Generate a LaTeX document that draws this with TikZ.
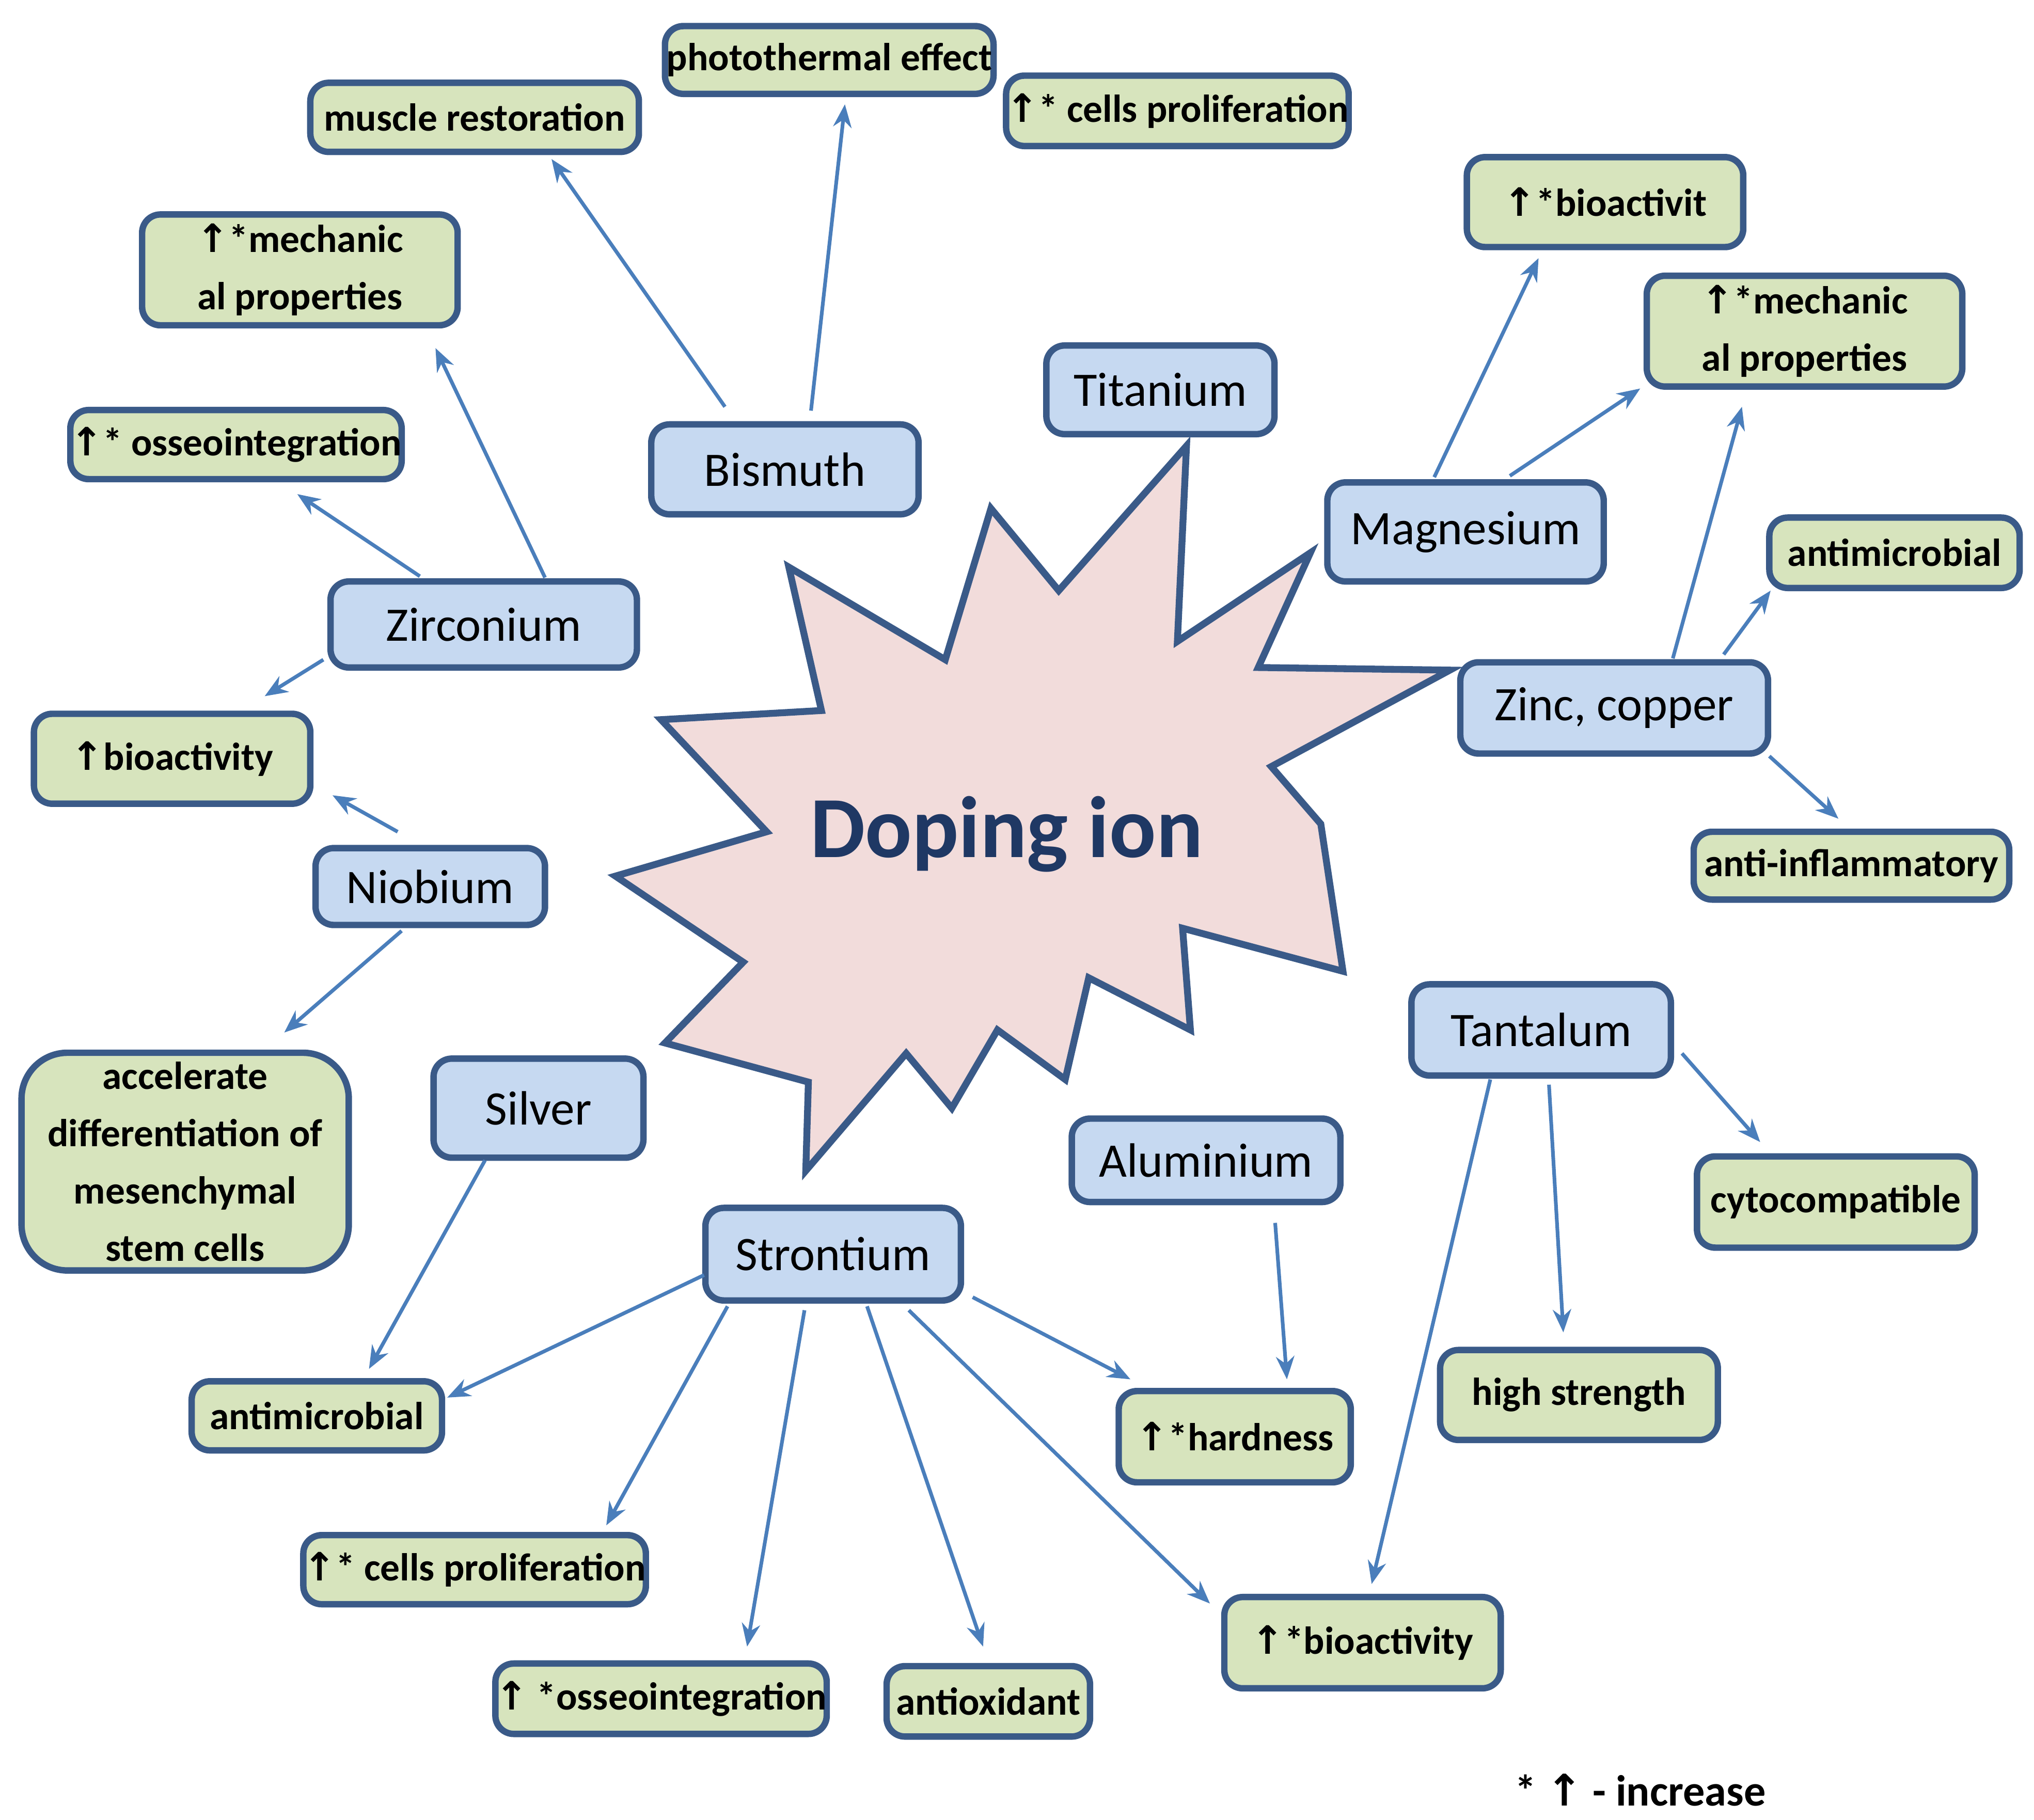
\documentclass[tikz,border=0pt]{standalone}
\usepackage{fontspec}
\usetikzlibrary{arrows.meta}
\setmainfont{Carlito}
\newfontfamily\arr{DejaVu Sans}
\newcommand{\up}{{\arr\char"2191}}
\definecolor{bfill}{HTML}{C6D9F1}
\definecolor{gfill}{HTML}{D7E4BD}
\definecolor{bord}{HTML}{3A5A88}
\definecolor{arrc}{HTML}{4A7EBB}
\definecolor{starf}{HTML}{F2DCDB}
\definecolor{startx}{HTML}{1F3864}
\begin{document}
\begin{tikzpicture}[x=0.01cm,y=-0.01cm,
  sz/.style 2 args={minimum width=#1*0.01cm,minimum height=#2*0.01cm},
  bx/.style={draw=bord,line width=1.4pt,rounded corners=4pt,inner sep=0pt,align=center},
  blue/.style={bx,fill=bfill,font=\fontsize{10.5}{12}\selectfont},
  green/.style={bx,fill=gfill,font=\bfseries\fontsize{8.5}{12.5}\selectfont},
  arw/.style={draw=arrc,line width=0.8pt,-{Stealth[length=5pt,width=4pt]}}]
\useasboundingbox (0,0) rectangle (1560,1396);
\draw[draw=bord,line width=1.5pt,fill=starf] (910,342)--(903,492)--(1005,424)--(965,512)--(1112,514)--(975,588)--(1013,632)--(1030,745)--(907,712)--(913,790)--(835,750)--(817,828)--(765,790)--(730,850)--(695,808)--(618,898)--(620,830)--(510,800)--(570,738)--(472,672)--(588,638)--(507,552)--(630,545)--(605,435)--(725,506)--(760,390)--(812,453)--cycle;
\node[font=\bfseries\fontsize{19}{22}\selectfont,text=startx] (dop) at (772,640) {Doping ion};
% blue
\node[blue,sz={175}{68}] (ti) at (890,299) {Titanium};
\node[blue,sz={205}{69}] (bis) at (602,360) {Bismuth};
\node[blue,sz={212}{76}] (mg) at (1124,408) {Magnesium};
\node[blue,sz={235}{66}] (zr) at (371,479) {Zirconium};
\node[blue,sz={236}{70}] (zn) at (1238,543) {Zinc, copper};
\node[blue,sz={176}{59}] (nb) at (330,680) {Niobium};
\node[blue,sz={161}{76}] (ag) at (413,850) {Silver};
\node[blue,sz={199}{70}] (ta) at (1182,790) {Tantalum};
\node[blue,sz={206}{64}] (al) at (925,890) {Aluminium};
\node[blue,sz={196}{71}] (sr) at (639,962) {Strontium};
% green
\node[green,sz={252}{53}] (mus) at (364,90) {muscle restoration};
\node[green,sz={252}{52}] (pho) at (636,46) {photothermal effect};
\node[green,sz={253}{54}] (cpT) at (903,85) {\up* cells proliferation};
\node[green,sz={242}{85}] (mecL) at (230,207) {\up*mechanic\\al properties};
\node[green,sz={251}{53}] (osL) at (181,341) {\up* osseointegration};
\node[green,sz={212}{69}] (bioL) at (132,582) {\up bioactivity};
\node[green,sz={251}{167},rounded corners=10pt] (acc) at (142,891) {accelerate\\differentiation of\\mesenchymal\\stem cells};
\node[green,sz={212}{69}] (bioT) at (1231,155) {\up*bioactivit};
\node[green,sz={242}{85}] (mecR) at (1384,254) {\up*mechanic\\al properties};
\node[green,sz={192}{54}] (amR) at (1453,424) {antimicrobial};
\node[green,sz={242}{52}] (ai) at (1420,664) {anti-inflammatory};
\node[green,sz={213}{70}] (cyto) at (1408,922) {cytocompatible};
\node[green,sz={213}{69}] (hs) at (1211,1070) {high strength};
\node[green,sz={178}{70}] (hard) at (947,1102) {\up*hardness};
\node[green,sz={212}{70}] (bioB) at (1045,1260) {\up*bioactivity};
\node[green,sz={192}{53}] (amB) at (243,1086) {antimicrobial};
\node[green,sz={252}{53}] (cpB) at (364,1204) {\up* cells proliferation};
\node[green,sz={253}{54}] (osB) at (507,1303) {\up\ *osseointegration};
\node[green,sz={156}{54}] (ao) at (758,1305) {antioxidant};
\node[font=\bfseries\fontsize{9.5}{12}\selectfont] (leg) at (1258,1373) {* \up\ - increase};
% arrows
\draw[arw] ([shift={(-46,-48)}]bis.center) -- ([shift={(59,32)}]mus.center);
\draw[arw] ([shift={(20,-45)}]bis.center) -- ([shift={(12,34)}]pho.center);
\draw[arw] ([shift={(-49,-37)}]zr.center) -- ([shift={(47,38)}]osL.center);
\draw[arw] ([shift={(47,-36)}]zr.center) -- ([shift={(104,60)}]mecL.center);
\draw[arw] ([shift={(-123,27)}]zr.center) -- ([shift={(71,-48)}]bioL.center);
\draw[arw] ([shift={(-25,-42)}]nb.center) -- ([shift={(123,28)}]bioL.center);
\draw[arw] ([shift={(-22,34)}]nb.center) -- ([shift={(76,-99)}]acc.center);
\draw[arw] ([shift={(-41,40)}]ag.center) -- ([shift={(40,-36)}]amB.center);
\draw[arw] ([shift={(-99,16)}]sr.center) -- ([shift={(100,-14)}]amB.center);
\draw[arw] ([shift={(-81,40)}]sr.center) -- ([shift={(101,-34)}]cpB.center);
\draw[arw] ([shift={(-22,43)}]sr.center) -- ([shift={(66,-40)}]osB.center);
\draw[arw] ([shift={(26,40)}]sr.center) -- ([shift={(-4,-42)}]ao.center);
\draw[arw] ([shift={(58,43)}]sr.center) -- ([shift={(-117,-30)}]bioB.center);
\draw[arw] ([shift={(107,33)}]sr.center) -- ([shift={(-80,-44)}]hard.center);
\draw[arw] ([shift={(53,48)}]al.center) -- ([shift={(40,-44)}]hard.center);
\draw[arw] ([shift={(-39,38)}]ta.center) -- ([shift={(7,-45)}]bioB.center);
\draw[arw] ([shift={(6,42)}]ta.center) -- ([shift={(-12,-48)}]hs.center);
\draw[arw] ([shift={(108,18)}]ta.center) -- ([shift={(-58,-46)}]cyto.center);
\draw[arw] ([shift={(-24,-42)}]mg.center) -- ([shift={(-51,43)}]bioT.center);
\draw[arw] ([shift={(34,-43)}]mg.center) -- ([shift={(-126,44)}]mecR.center);
\draw[arw] ([shift={(45,-38)}]zn.center) -- ([shift={(-48,58)}]mecR.center);
\draw[arw] ([shift={(84,-41)}]zn.center) -- ([shift={(-95,29)}]amR.center);
\draw[arw] ([shift={(119,37)}]zn.center) -- ([shift={(-10,-36)}]ai.center);
\end{tikzpicture}
\end{document}
